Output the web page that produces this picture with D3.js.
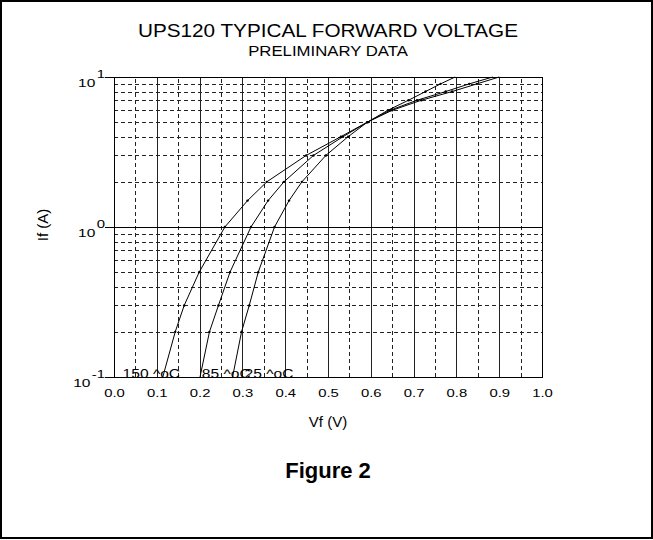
<!DOCTYPE html>
<html>
<head>
<meta charset="utf-8">
<script src="https://cdnjs.cloudflare.com/ajax/libs/d3/7.8.5/d3.min.js"></script>
<style>
  body { margin: 0; background: #fff; }
  text { font-family: Arial, "Liberation Sans", sans-serif; fill: #000; }
</style>
</head>
<body>
<svg id="chart" width="653" height="540"></svg>
<script>
// forward current steps (A) and measured Vf (V) per temperature
const currents = [0.1, 0.2, 0.3, 0.5, 1, 1.5, 2, 3, 4, 5, 6, 7, 8, 9, 10];
const vf150 = [0.114, 0.143, 0.164, 0.199, 0.259, 0.312, 0.357, 0.449, 0.530, 0.592, 0.650, 0.718, 0.790, 0.848, 0.900];
const vf85  = [0.201, 0.223, 0.244, 0.271, 0.320, 0.360, 0.397, 0.466, 0.535, 0.592, 0.645, 0.708, 0.775, 0.830, 0.885];
const vf25  = [0.277, 0.298, 0.316, 0.337, 0.375, 0.409, 0.439, 0.495, 0.547, 0.592, 0.640, 0.688, 0.728, 0.763, 0.797];

const seriesNames = ['150 ^oC', '85 ^oC', '25 ^oC'];
const labelV = [0.02, 0.205, 0.305];

const xTickValues = [0, 0.1, 0.2, 0.3, 0.4, 0.5, 0.6, 0.7, 0.8, 0.9, 1.0];
const xTickLabels = ['0.0', '0.1', '0.2', '0.3', '0.4', '0.5', '0.6', '0.7', '0.8', '0.9', '1.0'];
const xMinorValues = [0.05, 0.15, 0.25, 0.35, 0.45, 0.55, 0.65, 0.75, 0.85, 0.95];
const yDecades = [0.1, 1, 10];
const yDecadeExps = ['-1', '0', '1'];
const yMinorValues = [0.2, 0.3, 0.4, 0.5, 0.6, 0.7, 0.8, 0.9, 2, 3, 4, 5, 6, 7, 8, 9];

const svg = d3.select('#chart');
const width = +svg.attr('width');
const height = +svg.attr('height');
const margin = { left: 114, top: 77, right: 111, bottom: 163 };
const innerWidth = width - margin.left - margin.right;
const innerHeight = height - margin.top - margin.bottom;
const stretch = 1.35;

const xScale = d3.scaleLinear().domain([0, 1]).range([0, innerWidth]);
const yScale = d3.scaleLog().domain([0.1, 10]).range([innerHeight, 0]);

// page frame
svg.append('rect')
  .attr('x', 1).attr('y', 1)
  .attr('width', width - 2).attr('height', height - 3)
  .attr('fill', 'none').attr('stroke', '#000').attr('stroke-width', 2);

// titles
svg.append('text')
  .attr('transform', `translate(${margin.left + innerWidth / 2},37) scale(1.12,1)`)
  .attr('text-anchor', 'middle').style('font-size', '18.5px')
  .text('UPS120 TYPICAL FORWARD VOLTAGE');
svg.append('text')
  .attr('transform', `translate(${margin.left + innerWidth / 2},56) scale(1.08,1)`)
  .attr('text-anchor', 'middle').style('font-size', '15.5px')
  .text('PRELIMINARY DATA');

const g = svg.append('g')
  .attr('transform', `translate(${margin.left},${margin.top})`);

// minor dashed grid
const xMinorG = g.append('g')
  .attr('transform', `translate(0,${innerHeight})`)
  .call(d3.axisBottom(xScale).tickValues(xMinorValues).tickSize(-innerHeight).tickFormat(''));
const yMinorG = g.append('g')
  .call(d3.axisLeft(yScale).tickValues(yMinorValues).tickSize(-innerWidth).tickFormat(''));
[xMinorG, yMinorG].forEach(a => {
  a.select('.domain').remove();
  a.selectAll('line')
    .attr('stroke', '#222')
    .attr('stroke-dasharray', '4,3')
    .attr('shape-rendering', 'crispEdges');
});

// major solid grid + x labels
const xAxisG = g.append('g')
  .attr('transform', `translate(0,${innerHeight})`)
  .call(d3.axisBottom(xScale).tickValues(xTickValues).tickSize(-innerHeight)
    .tickFormat((d, i) => xTickLabels[i]).tickPadding(12));
xAxisG.select('.domain').remove();
xAxisG.selectAll('line').attr('stroke', '#222').attr('shape-rendering', 'crispEdges');
xAxisG.selectAll('text')
  .attr('fill', '#000')
  .style('font-size', '11px')
  .attr('font-family', 'Arial, "Liberation Sans", sans-serif')
  .attr('transform', `scale(${stretch},1)`);

// decade lines, extended left as ticks
const yAxisG = g.append('g')
  .attr('transform', `translate(${innerWidth},0)`)
  .call(d3.axisLeft(yScale).tickValues(yDecades).tickSize(innerWidth + 9).tickFormat(''));
yAxisG.select('.domain').remove();
yAxisG.selectAll('line').attr('stroke', '#000').attr('shape-rendering', 'crispEdges');
yAxisG.selectAll('.tick').each(function (d, i) {
  const lbl = d3.select(this).append('text')
    .attr('transform', `translate(${-innerWidth - 9},9) scale(${stretch},1)`)
    .attr('text-anchor', 'end').style('font-size', '11.5px');
  lbl.append('tspan').text('10');
  lbl.append('tspan')
    .attr('dx', 1).attr('dy', -9)
    .style('font-size', '11px')
    .text(yDecadeExps[i]);
});

// plot box
g.append('rect')
  .attr('width', innerWidth).attr('height', innerHeight)
  .attr('fill', 'none').attr('stroke', '#000')
  .attr('shape-rendering', 'crispEdges');

// axis titles
g.append('text')
  .attr('x', innerWidth / 2).attr('y', innerHeight + 50)
  .attr('text-anchor', 'middle').style('font-size', '15px')
  .text('Vf (V)');
g.append('text')
  .attr('transform', `translate(${-66},${148}) rotate(-90)`)
  .attr('text-anchor', 'middle').style('font-size', '15px')
  .text('If (A)');

// curves
const series = [vf150, vf85, vf25].map((vals, k) => ({
  name: seriesNames[k],
  points: vals.map((v, i) => ({ v: v, i: currents[i] }))
}));

const line = d3.line()
  .x(d => xScale(d.v))
  .y(d => yScale(d.i));

const curveG = g.append('g');
curveG.selectAll('path')
  .data(series)
  .enter().append('path')
  .attr('d', d => line(d.points))
  .attr('fill', 'none')
  .attr('stroke', '#000')
  .attr('stroke-width', 1);

curveG.selectAll('g.marks')
  .data(series)
  .enter().append('g')
  .attr('class', 'marks')
  .selectAll('circle')
  .data(d => d.points.slice(1, -1))
  .enter().append('circle')
  .attr('cx', d => xScale(d.v))
  .attr('cy', d => yScale(d.i))
  .attr('r', 1.2)
  .attr('fill', '#000');

// curve labels along the bottom
g.selectAll('text.curve-label')
  .data(series)
  .enter().append('text')
  .attr('class', 'curve-label')
  .attr('transform', (d, k) => `translate(${xScale(labelV[k])},${innerHeight + 1}) scale(1.2,1)`)
  .style('font-size', '13px')
  .text(d => d.name);

// caption
svg.append('text')
  .attr('x', margin.left + innerWidth / 2).attr('y', 478)
  .attr('text-anchor', 'middle')
  .style('font-size', '22px').style('font-weight', 'bold')
  .text('Figure 2');
</script>
</body>
</html>
